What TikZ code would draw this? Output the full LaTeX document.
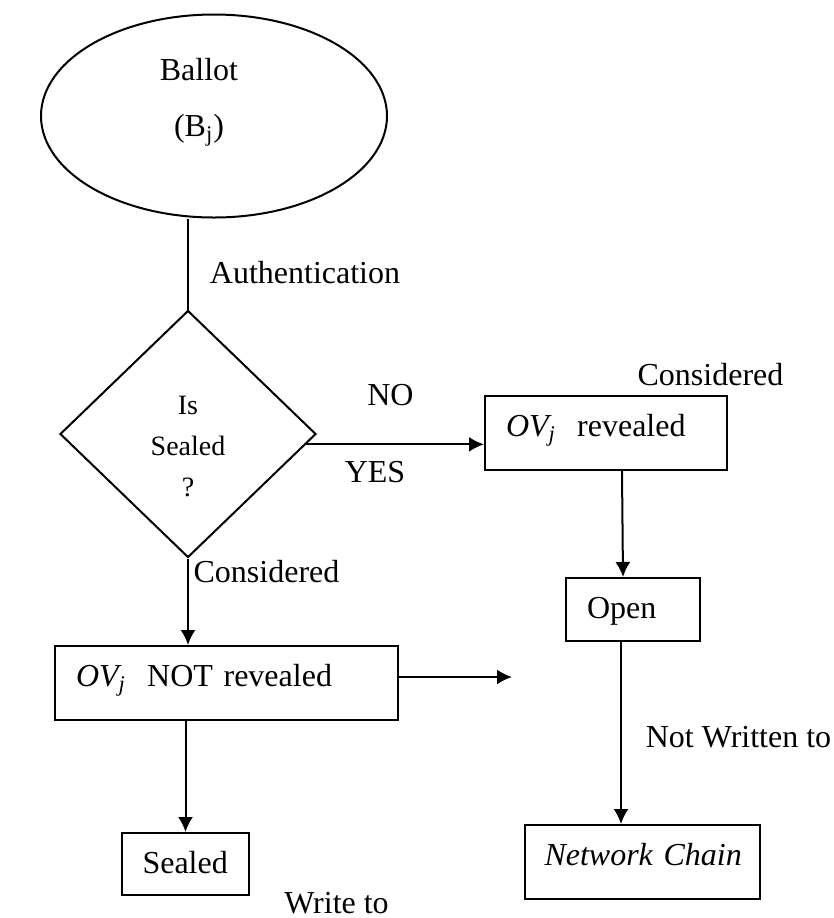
\documentclass[tikz,border=0pt]{standalone}
\usepackage{fontspec}
\setmainfont{Liberation Serif}
\usepackage{tikz}
\usetikzlibrary{arrows.meta}
\usetikzlibrary{positioning}
\usetikzlibrary{shapes.geometric}
\tikzstyle{every node}+=[inner sep=0pt]
\tikzstyle{block} = [rectangle, draw, align=left, inner xsep=10.5pt, text height=20pt, line width=1pt]
\tikzstyle{decision} = [diamond, draw, minimum width=128pt, minimum height=123.5pt, line width=1pt]
\tikzstyle{start} = [ellipse, draw, minimum width=173pt, minimum height=101.5pt, line width=1pt]
\tikzstyle{line} = [draw, line width=1pt, -{Latex[length=7.5pt,width=7.5pt]}]
\tikzstyle{link} = [draw, line width=1pt]
\tikzstyle{value} = [black, text centered]

\begin{document}
\begin{tikzpicture}[auto, font=\fontsize{16}{19}\selectfont]
            \useasboundingbox (0,0) rectangle (417pt,-459pt);
            % Place nodes
            \node [start, label={[xshift=-7.5pt, yshift=7pt, align=center]center:Ballot\\[9pt](B\textsubscript{j})}] (ballot) at (107pt,-58pt) {};
            \node [value, below of=ballot, node distance=78.5pt, xshift=45.5pt] (auth) {Authentication};
            \node [decision, below of=ballot, node distance=159pt, xshift=-13pt, label={[yshift=-6.5pt, align=center, font=\fontsize{14}{20.5}\selectfont]center:Is\\Sealed\\?}] (diam) {};
            \node [value, right of=diam, node distance=101.25pt, yshift=19.5pt] (no) {NO};
            \node [value, right of=diam, node distance=93.5pt, yshift=-19pt] (yes) {YES};
            \node [block, right of=diam, node distance=209pt, yshift=0.5pt, text width=100pt, text depth=17pt] (rev) {\textit{OV\textsubscript{j}}\ \ revealed};
            \node [value, right of=rev, node distance=52.25pt, yshift=29pt] (consa) {Considered};
            \node [block, below of=rev, node distance=88.25pt, xshift=13.5pt, text width=46pt, text depth=11.5pt] (open) {Open};
            \node [value, below of=open, node distance=63.75pt, xshift=52.75pt] (notwr) {Not Written to};
            \node [block, below of=open, node distance=126.25pt, xshift=4.75pt, text width=98pt, inner xsep=9.75pt, text depth=17pt] (chain) {\mbox{\textit{Network Chain}}};
            \node [value, below of=diam, node distance=69pt, xshift=39.25pt] (consb) {Considered};
            \node [block, below of=diam, node distance=124.5pt, xshift=19.25pt, text width=150.5pt, text depth=17pt] (notrev) {\textit{OV\textsubscript{j}}\ \ NOT revealed};
            \coordinate [right of=notrev, node distance=142.75pt, yshift=3pt] (gap);
            \node [block, below of=notrev, node distance=90.5pt, xshift=-20.5pt, text width=43pt, inner xsep=10.25pt, text depth=11pt] (sealed) {Sealed};
            \node [value, below of=sealed, node distance=19.5pt, xshift=75.5pt] (write) {Write to};
            % Draw edges
            \path [link] (diam.north |- ballot.south) -- (diam.north);
            \path [line] (diam.-5) -- (diam.-5 -| rev.west);
            \path [line] ([xshift=8pt]rev.south) -- ([xshift=-5pt]open.north);
            \path [line] ([xshift=-6pt]open.south) -- ([xshift=-6pt]open.south |- chain.north);
            \path [line] (diam.south) -- (diam.south |- notrev.north);
            \path [line] (notrev.east |- gap) -- (gap);
            \path [line] (sealed.north |- notrev.south) -- (sealed.north);
          \end{tikzpicture}
\end{document}
